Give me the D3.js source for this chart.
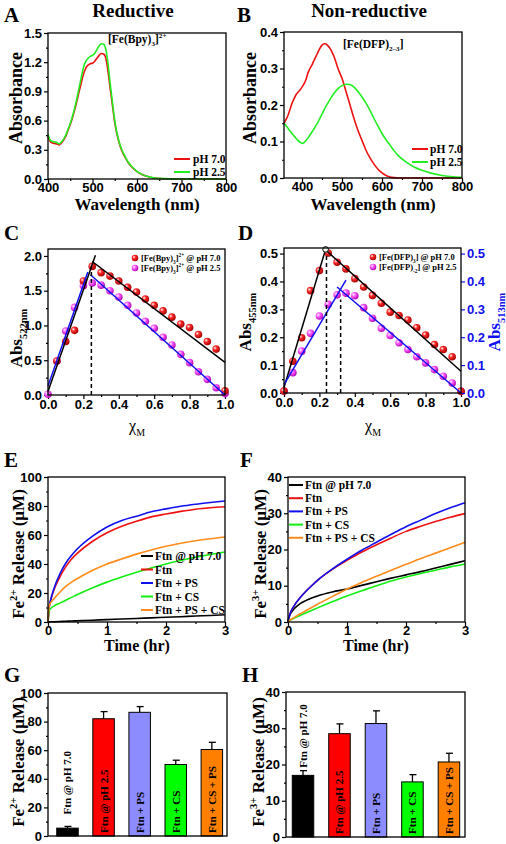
<!DOCTYPE html>
<html><head><meta charset="utf-8">
<script src="https://cdn.jsdelivr.net/npm/d3@7"></script>
<style>body{margin:0;background:#fff}svg{display:block}</style>
</head><body><svg id="c" width="506" height="844"></svg>
<script>
// ---------- DATA ----------
// Panel A: [Fe(Bpy)3]2+ spectra
const wlA = [400,405,410,415,420,425,430,435,440,445,450,455,460,465,470,475,480,485,490,495,500,505,510,515,520,525,530,535,540,545,550,555,560,565,570,575,580,590,600,610,620,630,640,650,675,700,750,800];
const absA_pH70 = [0.44,0.385,0.37,0.365,0.36,0.35,0.37,0.40,0.44,0.50,0.56,0.63,0.71,0.80,0.90,0.99,1.08,1.14,1.17,1.185,1.19,1.21,1.24,1.27,1.29,1.285,1.24,1.10,0.92,0.75,0.58,0.46,0.37,0.30,0.25,0.21,0.17,0.115,0.075,0.048,0.03,0.018,0.01,0.005,0.001,0,0,0];
const absA_pH25 = [0.46,0.40,0.385,0.38,0.375,0.36,0.38,0.41,0.45,0.51,0.57,0.645,0.73,0.83,0.94,1.05,1.15,1.21,1.24,1.26,1.27,1.29,1.33,1.37,1.39,1.385,1.33,1.18,0.97,0.78,0.60,0.47,0.38,0.31,0.26,0.215,0.175,0.12,0.078,0.05,0.031,0.019,0.011,0.006,0.001,0,0,0];
// Panel B: [Fe(DFP)2-3] spectra
const wlB = [355,360,365,370,375,380,385,390,395,400,405,410,415,420,425,430,435,440,445,450,455,460,465,470,475,480,490,500,510,520,530,540,550,560,570,580,590,600,610,620,630,640,660,680,700,720,750,800];
const absB_pH70 = [0.150,0.160,0.172,0.188,0.205,0.217,0.228,0.235,0.241,0.249,0.258,0.270,0.288,0.300,0.310,0.322,0.333,0.345,0.356,0.364,0.368,0.367,0.362,0.355,0.345,0.333,0.300,0.273,0.237,0.200,0.163,0.130,0.103,0.076,0.055,0.038,0.024,0.014,0.007,0.003,0.001,0,0,0,0,0,0,0];
const absB_pH25 = [0.150,0.143,0.136,0.129,0.122,0.115,0.109,0.103,0.098,0.095,0.097,0.103,0.110,0.118,0.126,0.135,0.144,0.153,0.164,0.175,0.186,0.197,0.206,0.215,0.224,0.232,0.245,0.253,0.257,0.256,0.249,0.237,0.222,0.205,0.185,0.163,0.142,0.122,0.105,0.090,0.075,0.062,0.044,0.030,0.021,0.014,0.007,0.002];
// Panels C, D: Job plots
const chiM = [0,0.05,0.1,0.15,0.2,0.25,0.3,0.35,0.4,0.45,0.5,0.55,0.6,0.65,0.7,0.75,0.8,0.85,0.9,0.95,1.0];
const absC_pH70 = [null,0.49,0.77,0.93,1.64,1.85,1.76,1.71,1.64,1.55,1.48,1.38,1.29,1.21,1.12,1.02,0.97,0.87,0.77,0.66,0.06];
const absC_pH25 = [0.01,0.49,0.92,1.26,1.57,1.61,1.58,1.50,1.41,1.29,1.18,1.06,0.96,0.83,0.72,0.585,0.465,0.335,0.225,0.105,0.02];
const fitC_pH70 = [[[0,0.05],[0.268,2.01]],[[0.25,1.92],[1.0,0.47]]];
const fitC_pH25 = [[[0,0.13],[0.225,1.77]],[[0.24,1.73],[1.0,0.0]]];
const dropC = [[0.245,1.85]];
const absD_pH70 = [0.007,0.114,0.198,0.367,0.439,0.502,0.469,0.445,0.41,0.38,0.35,0.322,0.29,0.278,0.262,0.234,0.208,0.174,0.156,0.13,0.006];
const absD_pH25 = [0.007,0.073,0.15,0.214,0.276,0.318,0.352,0.358,0.349,0.306,0.268,0.232,0.206,0.18,0.156,0.13,0.108,0.084,0.06,0.036,0.006];
const fitD_pH70 = [[[0,0.02],[0.235,0.515]],[[0.24,0.51],[1.0,0.078]]];
const fitD_pH25 = [[[0,0.03],[0.35,0.405]],[[0.3,0.38],[1.0,0.0]]];
const dropD = [[0.24,0.5],[0.32,0.335]];
// Panel E: Fe2+ release kinetics
const timeE = [0,0.02,0.05,0.1,0.2,0.3,0.4,0.5,0.75,1,1.25,1.5,1.75,2,2.25,2.5,2.75,3];
const E_pH70 = [0,0.1,0.15,0.2,0.35,0.5,0.7,0.85,1.25,1.65,2.05,2.45,2.85,3.25,3.65,4.1,4.5,5.0];
const E_Ftn = [0,10,15.5,22,31,38,43.5,47.5,55.5,61.5,66,69.5,72.5,74.5,76.3,77.8,78.8,79.5];
const E_FtnPS = [0,10,16,23,33,40.5,46,50.5,59,65.5,70,73,76,78,79.8,81.2,82.4,83.5];
const E_FtnCS = [0,8,9.5,11,13,15,17,19,23.5,27.5,31,34.3,37.3,40,42.4,44.6,46.6,48.3];
const E_FtnPSCS = [0,11,13.5,16,20.5,24.5,27.5,30,35.5,40,43.5,46.8,49.7,52.2,54.3,56,57.4,58.6];
// Panel F: Fe3+ release kinetics
const timeF = [0,0.02,0.05,0.1,0.2,0.3,0.4,0.5,0.75,1,1.25,1.5,1.75,2,2.25,2.5,2.75,3];
const F_pH70 = [0,1.4,2.5,3.6,5.0,5.9,6.6,7.2,8.3,9.1,10.1,11.1,12.1,13.0,13.9,14.9,15.9,16.9];
const F_Ftn = [0,1.5,2.9,4.4,6.6,8.4,10,11.5,14.5,17.0,19.3,21.3,23.2,25,26.4,27.7,28.9,29.9];
const F_FtnPS = [0,1.5,2.9,4.4,6.6,8.4,10,11.5,14.6,17.3,19.8,22,24.2,26.3,28.1,29.9,31.5,32.9];
const F_FtnCS = [0,0.3,0.6,1.0,1.8,2.5,3.2,3.9,5.6,7.2,8.6,10,11.3,12.4,13.4,14.3,15.2,16];
const F_FtnPSCS = [0,0.3,0.7,1.2,2.2,3.1,4.0,4.9,7.0,9.1,10.9,12.6,14.3,15.9,17.5,19,20.5,22];
const kinLabels = ["Ftn @ pH 7.0","Ftn","Ftn + PS","Ftn + CS","Ftn + PS + CS"];
// Panels G, H: bar charts
const barCats = ["Ftn @ pH 7.0","Ftn @ pH 2.5","Ftn + PS","Ftn + CS","Ftn + CS + PS"];
const G_vals = [5.5,82,86.5,50,60.5];
const G_errs = [1.2,5,4,3,5];
const H_vals = [17,28.5,31.3,15.2,20.7];
const H_errs = [1.3,2.7,3.5,2,2.4];

// ---------- DRAW ----------
const SERIF = "'Liberation Serif','Times New Roman',serif";
const SANS = "'Liberation Sans',Arial,sans-serif";
const RED='#ee1111', GREEN='#22ee22', BLUE='#1010ee', ORANGE='#ff8c1a', BLK='#000';
const TICKFS=13, LABFS=17;
const svg = d3.select('#c');
const defs = svg.append('defs');
function ball(id,c1,c2){
  const g=defs.append('radialGradient').attr('id',id).attr('cx','35%').attr('cy','35%').attr('r','70%');
  g.append('stop').attr('offset','0%').attr('stop-color','#fff');
  g.append('stop').attr('offset','35%').attr('stop-color',c1);
  g.append('stop').attr('offset','100%').attr('stop-color',c2);
}
ball('bRed','#ff2a2a','#a00000');
ball('bMag','#ff60ff','#b000b0');

function rich(sel, parts, fs){
  let shift=0;
  parts.forEach(([t,k])=>{
    const target = k==='sub'? fs*0.3 : (k==='sup'? -fs*0.42 : 0);
    const ts=sel.append('tspan').text(t).attr('dy', target-shift);
    if(k) ts.attr('font-size', fs*0.62);
    shift=target;
  });
  return sel;
}
function txt(x,y,fs,opts={}){
  const t=svg.append('text').attr('x',x).attr('y',y).attr('font-family',opts.sans?SANS:SERIF)
    .attr('font-weight',opts.normal?'normal':'bold').attr('font-size',fs).attr('fill',opts.fill||'#000');
  if(opts.anchor) t.attr('text-anchor',opts.anchor);
  return t;
}
function vlabel(x,y,fs,parts,fill){
  const t=svg.append('text').attr('transform',`translate(${x},${y}) rotate(-90)`).attr('text-anchor','middle')
    .attr('font-family',SERIF).attr('font-weight','bold').attr('font-size',fs).attr('fill',fill||'#000');
  rich(t,parts,fs);
  return t;
}
function styleAxis(a,color){
  a.select('.domain').remove();
  a.selectAll('.tick line').attr('stroke',color||'#000').attr('stroke-width',1.2);
  a.selectAll('.tick text').attr('font-family',SANS).attr('font-weight','bold').attr('font-size',TICKFS).attr('fill',color||'#000');
}
function panel(o){
  const x=d3.scaleLinear().domain(o.xd).range([o.l,o.r]);
  const y=d3.scaleLinear().domain(o.yd).range([o.b,o.t]);
  const g=svg.append('g');
  if(o.xm){const a=g.append('g').attr('transform',`translate(0,${o.b})`).call(d3.axisBottom(x).tickValues(o.xm).tickSize(2).tickFormat(''));styleAxis(a);}
  if(o.ym){const a=g.append('g').attr('transform',`translate(${o.l},0)`).call(d3.axisLeft(y).tickValues(o.ym).tickSize(2).tickFormat(''));styleAxis(a);}
  if(o.xt){
    const a=g.append('g').attr('transform',`translate(0,${o.b})`).call(d3.axisBottom(x).tickValues(o.xt).tickSize(4).tickPadding(o.xpad==null?1:o.xpad).tickFormat(o.xf||(d=>d)));
    styleAxis(a);
  }
  const ay=g.append('g').attr('transform',`translate(${o.l},0)`).call(d3.axisLeft(y).tickValues(o.yt).tickSize(4).tickPadding(2).tickFormat(o.yf||(d=>d)));
  styleAxis(ay);
  const plot=g.append('g');
  return {g,plot,x,y,o};
}
function frame(p){
  p.g.append('rect').attr('x',p.o.l).attr('y',p.o.t).attr('width',p.o.r-p.o.l).attr('height',p.o.b-p.o.t)
    .attr('fill','none').attr('stroke','#000').attr('stroke-width',1.3);
}
function curve(p,xs,ys,color,w){
  const line=d3.line().x(d=>p.x(d[0])).y(d=>p.y(d[1])).curve(d3.curveMonotoneX);
  p.plot.append('path').datum(xs.map((v,i)=>[v,ys[i]])).attr('d',line).attr('fill','none').attr('stroke',color).attr('stroke-width',w||1.6);
}
function seg(p,pts,color,dash){
  const line=d3.line().x(d=>p.x(d[0])).y(d=>p.y(d[1]));
  const s=p.plot.append('path').datum(pts).attr('d',line).attr('fill','none').attr('stroke',color).attr('stroke-width',1.5);
  if(dash) s.attr('stroke-dasharray',dash);
}
function dots(p,xs,ys,fill){
  p.plot.append('g').selectAll('circle').data(xs.map((v,i)=>[v,ys[i]]).filter(d=>d[1]!=null)).join('circle')
    .attr('cx',d=>p.x(d[0])).attr('cy',d=>p.y(d[1])).attr('r',3.8).attr('fill',fill);
}
const f1=d3.format('.1f');

// headings
txt(133,17,19,{anchor:'middle'}).text('Reductive');
txt(369,17,19,{anchor:'middle'}).text('Non-reductive');
[['A',4,22],['B',237,22],['C',4,240],['D',238,240],['E',4,467],['F',240,467],['G',4,682],['H',242,682]]
  .forEach(([l,x,y])=>txt(x,y,21).text(l));

// ---- Panel A ----
const pA=panel({l:48,r:226,t:33,b:179,xd:[400,800],yd:[0,1.5],xt:[400,500,600,700,800],xm:[450,550,650,750],yt:[0,0.3,0.6,0.9,1.2,1.5],ym:[0.15,0.45,0.75,1.05,1.35],yf:f1,xpad:0});
curve(pA,wlA,absA_pH70,RED);
curve(pA,wlA,absA_pH25,GREEN);
frame(pA);
rich(txt(108,43,11.5),[['[Fe(Bpy)',''],['3','sub'],[']',''],['2+','sup']],11.5);
[[RED,'pH 7.0',159],[GREEN,'pH 2.5',172]].forEach(([c,t,y])=>{
  svg.append('line').attr('x1',174).attr('x2',190).attr('y1',y).attr('y2',y).attr('stroke',c).attr('stroke-width',2);
  txt(193,y+4,11.5).text(t);
});
vlabel(22,98,18,[['Absorbance','']]);
txt(137,210,LABFS,{anchor:'middle'}).text('Wavelength (nm)');

// ---- Panel B ----
const pB=panel({l:284,r:462,t:32,b:178,xd:[355,800],yd:[0,0.4],xt:[400,500,600,700,800],xm:[450,550,650,750],yt:[0,0.1,0.2,0.3,0.4],ym:[0.05,0.15,0.25,0.35],yf:f1,xpad:0});
curve(pB,wlB,absB_pH70,RED);
curve(pB,wlB,absB_pH25,GREEN);
frame(pB);
rich(txt(343,48,11.5),[['[Fe(DFP)',''],['2–3','sub'],[']','']],11.5);
[[RED,'pH 7.0',149],[GREEN,'pH 2.5',162]].forEach(([c,t,y])=>{
  svg.append('line').attr('x1',412).attr('x2',428).attr('y1',y).attr('y2',y).attr('stroke',c).attr('stroke-width',2);
  txt(430,y+4,11.5).text(t);
});
vlabel(256,98,18,[['Absorbance','']]);
txt(373,210,LABFS,{anchor:'middle'}).text('Wavelength (nm)');

// ---- Panel C ----
const pC=panel({l:48,r:225,t:249,b:395,xd:[0,1],yd:[0,2.1],xt:[0,0.2,0.4,0.6,0.8,1.0],xm:[0.1,0.3,0.5,0.7,0.9],yt:[0,0.5,1,1.5,2],ym:[0.25,0.75,1.25,1.75],xf:f1,yf:f1});
dots(pC,chiM,absC_pH25,'url(#bMag)');
dots(pC,chiM,absC_pH70,'url(#bRed)');
fitC_pH70.forEach(s=>seg(pC,s,BLK));
fitC_pH25.forEach(s=>seg(pC,s,BLUE));
dropC.forEach(d=>seg(pC,[[d[0],0],d],BLK,'4,3'));
frame(pC);
[['url(#bRed)','pH 7.0',258],['url(#bMag)','pH 2.5',268]].forEach(([c,t,y])=>{
  svg.append('circle').attr('cx',135).attr('cy',y).attr('r',3.3).attr('fill',c);
  rich(txt(141,y+3,8.5),[['[Fe(Bpy)',''],['3','sub'],[']',''],['2+','sup'],[' @ '+t,'']],8.5);
});
vlabel(22,338,LABFS,[['Abs',''],['522nm','sub']]);
rich(txt(137,431,16,{anchor:'middle',normal:true}),[['χ',''],['M','sub']],16);

// ---- Panel D ----
const pD=panel({l:284,r:461,t:248,b:393,xd:[0,1],yd:[0,0.52],xt:[0,0.2,0.4,0.6,0.8,1.0],xm:[0.1,0.3,0.5,0.7,0.9],yt:[0,0.1,0.2,0.3,0.4,0.5],ym:[0.05,0.15,0.25,0.35,0.45],xf:f1,yf:f1});
const ar=pD.g.append('g').attr('transform',`translate(${pD.o.r},0)`).call(d3.axisRight(pD.y).tickValues([0,0.1,0.2,0.3,0.4,0.5]).tickSize(4).tickPadding(2).tickFormat(f1));
styleAxis(ar,BLUE);
dots(pD,chiM,absD_pH25,'url(#bMag)');
dots(pD,chiM,absD_pH70,'url(#bRed)');
fitD_pH70.forEach(s=>seg(pD,s,BLK));
fitD_pH25.forEach(s=>seg(pD,s,BLUE));
dropD.forEach(d=>seg(pD,[[d[0],0],d],BLK,'4,3'));
pD.plot.append('circle').attr('cx',pD.x(fitD_pH70[0][1][0])).attr('cy',pD.y(fitD_pH70[0][1][1])).attr('r',2.8).attr('fill','#fff').attr('stroke',BLK).attr('stroke-width',1);
frame(pD);
[['url(#bRed)','[Fe(DFP)','3','] @ pH 7.0',257],['url(#bMag)','[Fe(DFP)','-2','] @ pH 2.5',267]].forEach(([c,a,s,b,y])=>{
  svg.append('circle').attr('cx',373).attr('cy',y).attr('r',3.3).attr('fill',c);
  rich(txt(379,y+3,8.5),[[a,''],[s,'sub'],[b,'']],8.5);
});
vlabel(251,322,LABFS,[['Abs',''],['455nm','sub']]);
vlabel(500,322,LABFS,[['Abs',''],['513nm','sub']],BLUE);
rich(txt(373,431,16,{anchor:'middle',normal:true}),[['χ',''],['M','sub']],16);

// ---- Panel E ----
const kinColors=[BLK,RED,BLUE,'#11ee11',ORANGE];
const pE=panel({l:48,r:225,t:477,b:622,xd:[0,3],yd:[0,100],xt:[0,1,2,3],xm:[0.5,1.5,2.5],yt:[0,20,40,60,80,100],ym:[10,30,50,70,90],xpad:0});
[E_pH70,E_Ftn,E_FtnPS,E_FtnCS,E_FtnPSCS].forEach((s,i)=>curve(pE,timeE,s,kinColors[i]));
frame(pE);
kinLabels.forEach((t,i)=>{
  const y=556+i*13.5;
  svg.append('line').attr('x1',141).attr('x2',153).attr('y1',y).attr('y2',y).attr('stroke',kinColors[i]).attr('stroke-width',2);
  txt(155,y+4,11.5).text(t);
});
vlabel(24,554,LABFS,[['Fe',''],['2+','sup'],[' Release (µM)','']]);
txt(137,651,16,{anchor:'middle'}).text('Time (hr)');

// ---- Panel F ----
const pF=panel({l:288,r:465,t:477,b:622,xd:[0,3],yd:[0,40],xt:[0,1,2,3],xm:[0.5,1.5,2.5],yt:[0,10,20,30,40],ym:[5,15,25,35],xpad:0});
[F_pH70,F_Ftn,F_FtnPS,F_FtnCS,F_FtnPSCS].forEach((s,i)=>curve(pF,timeF,s,kinColors[i]));
frame(pF);
kinLabels.forEach((t,i)=>{
  const y=485+i*13.2;
  svg.append('line').attr('x1',289).attr('x2',303).attr('y1',y).attr('y2',y).attr('stroke',kinColors[i]).attr('stroke-width',2);
  txt(305,y+4,11.5).text(t);
});
vlabel(266,554,LABFS,[['Fe',''],['3+','sup'],[' Release (µM)','']]);
txt(376,651,16,{anchor:'middle'}).text('Time (hr)');

// ---- Bars ----
const barColors=['#000000','#ff0000','#8c8cff','#00ff00','#ff8000'];
function bars(p,vals,errs,dom,firstGap){
  const xb=d3.scaleLinear().domain(dom).range([p.o.l,p.o.r]);
  const w=21.5;
  const data=vals.map((v,i)=>({i,v,e:errs[i],c:barCats[i]}));
  p.plot.selectAll('line.eb').data(data).join('line').attr('x1',d=>xb(d.i)).attr('x2',d=>xb(d.i))
    .attr('y1',d=>p.y(d.v)).attr('y2',d=>p.y(d.v+d.e)).attr('stroke','#000').attr('stroke-width',1.3);
  p.plot.selectAll('line.cap').data(data).join('line').attr('x1',d=>xb(d.i)-3).attr('x2',d=>xb(d.i)+4)
    .attr('y1',d=>p.y(d.v+d.e)).attr('y2',d=>p.y(d.v+d.e)).attr('stroke','#000').attr('stroke-width',1.3);
  p.plot.selectAll('rect').data(data).join('rect').attr('x',d=>xb(d.i)-w/2).attr('y',d=>p.y(d.v))
    .attr('width',w).attr('height',d=>p.y(0)-p.y(d.v)).attr('fill',d=>barColors[d.i]).attr('stroke','#000').attr('stroke-width',1);
  p.plot.selectAll('text').data(data).join('text')
    .attr('transform',d=>{const y0=d.i===0? p.y(d.v+d.e)-firstGap : p.y(0)-3; return `translate(${xb(d.i)+4},${y0}) rotate(-90)`;})
    .attr('font-family',SERIF).attr('font-weight','bold').attr('font-size',11).attr('fill','#000').text(d=>d.c);
}
const pG=panel({l:48,r:227,t:693,b:836,xd:[0,1],yd:[0,100],yt:[0,20,40,60,80,100],ym:[10,30,50,70,90]});
bars(pG,G_vals,G_errs,[-0.54,4.42],12);
frame(pG);
vlabel(24,762,LABFS,[['Fe',''],['2+','sup'],[' Release (µM)','']]);

const pH=panel({l:286,r:465,t:692,b:837,xd:[0,1],yd:[0,40],yt:[0,10,20,30,40],ym:[5,15,25,35]});
bars(pH,H_vals,H_errs,[-0.466,4.44],3);
frame(pH);
vlabel(264,762,LABFS,[['Fe',''],['3+','sup'],[' Release (µM)','']]);
</script></body></html>
